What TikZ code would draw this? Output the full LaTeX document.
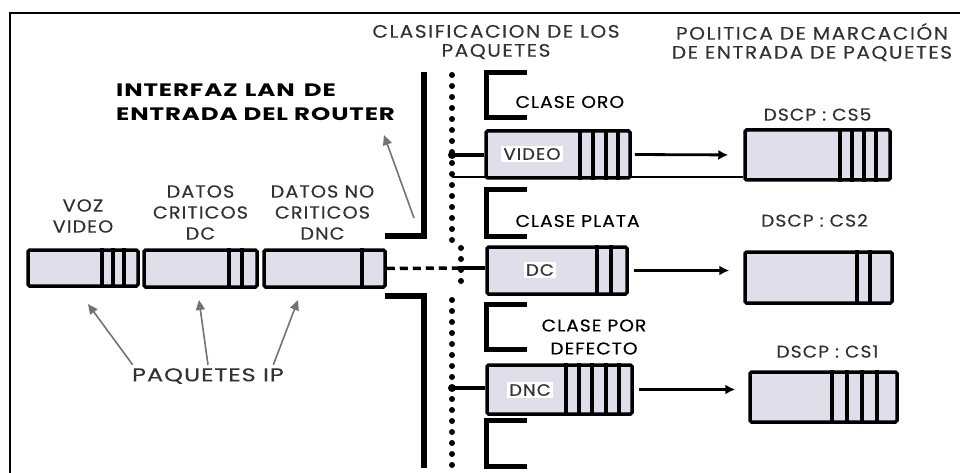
\documentclass[tikz,border=0pt]{standalone}
\usepackage{fontspec}
\setmainfont{Poppins}[FakeStretch=1.1, LetterSpace=6, FakeBold=0.4]
\newfontfamily\headfont{Poppins}[FakeStretch=1.12, LetterSpace=8.5, FakeBold=0.3]
\newfontfamily\ipfont{Poppins}[FakeStretch=1.3, LetterSpace=5, FakeBold=0.4]
\newfontfamily\routerfont{Poppins}[FakeStretch=1.36, LetterSpace=5]
\usetikzlibrary{arrows.meta, positioning}
\definecolor{pktfill}{RGB}{222,223,234}
\definecolor{txtgray}{RGB}{50,50,50}

\tikzset{
  pkt/.style={draw, line width=3.5pt, fill=pktfill, rounded corners=1.5pt, inner sep=0pt},
  stripe/.style={line width=3.5pt},
  tag/.style={fill=white, inner sep=2.5pt, text=txtgray, font=\fontsize{16.5}{18}\selectfont},
  head/.style={align=center, text=txtgray, font=\headfont\fontsize{18}{19}\selectfont},
  lbl/.style={align=center, text=txtgray, font=\fontsize{17.5}{21}\selectfont},
  clase/.style={align=center, font=\fontsize{17}{23}\selectfont},
  dscp/.style={text=txtgray, font=\fontsize{17}{19}\selectfont},
  wall/.style={line width=5.5pt},
  bracket/.style={line width=5pt},
  dots/.style={line width=6pt, line cap=round, dash pattern=on 0pt off 11pt},
  link/.style={line width=3.5pt},
  gray arrow/.style={-{Triangle[length=10pt,width=9pt]}, draw=black!55, line width=1.6pt},
  flow/.style={-{Latex[length=10pt,width=10pt]}, line width=2.8pt},
}

\begin{document}
\begin{tikzpicture}[x=1pt, y=-1pt]
\useasboundingbox (0,0) rectangle (960,473);

% marco
\draw[line width=2pt] (10,473) -- (10,13) -- (960,13);

% titulos
\node[head] (clas) at (496,42) {CLASIFICACION DE LOS\\PAQUETES};
\node[head] (pol) at (812,42) {POLITICA DE MARCACIÓN\\DE ENTRADA DE PAQUETES};
\node[align=left, anchor=north west, inner sep=0pt, font=\routerfont\bfseries\fontsize{18}{24}\selectfont] (router) at (116,84) {INTERFAZ\hspace{7pt}LAN\hspace{3pt} DE\\ENTRADA DEL ROUTER};

% interfaz LAN del router
\draw[wall] (385,236) -- (424,236) -- (424,72);
\draw[wall] (385,296) -- (424,296) -- (424,468);
\coordinate (rt) at (414,218);
\coordinate (rtip) at (384,135);
\draw[gray arrow] (rt) -- (rtip);

% linea de clasificacion
\draw[dots] (452,75) -- (452,243);
\draw[dots] (461,248) -- (461,290);
\draw[dots] (452,300) -- (452,468);

% paquetes IP de entrada
\node[pkt, minimum width=110pt, minimum height=36pt] (p1) at (83,268) {};
\node[pkt, minimum width=113pt, minimum height=37pt] (p2) at (200.5,268.5) {};
\node[pkt, minimum width=121pt, minimum height=37pt] (p3) at (324.5,268.5) {};
\foreach \x in {102,113,124} \draw[stripe] (\x,0 |- p1.north) -- (\x,0 |- p1.south);
\foreach \x in {229,242} \draw[stripe] (\x,0 |- p2.north) -- (\x,0 |- p2.south);
\draw[stripe] (362,0 |- p3.north) -- (362,0 |- p3.south);

\node[lbl, above=12pt of p1] {VOZ\\VIDEO};
\node[lbl, above=5pt of p2] {DATOS\\CRITICOS\\DC};
\node[lbl, above=5pt of p3, xshift=-2pt] {DATOS NO\\CRITICOS\\DNC};

\node[lbl, font=\ipfont\fontsize{18.5}{21}\selectfont] (ip) at (208,376) {PAQUETES IP};
\coordinate (a1) at (88,304);
\coordinate (a2) at (199,300);
\coordinate (a3) at (298,300);
\draw[gray arrow] ([xshift=4pt]ip.north west) -- (a1);
\draw[gray arrow] (ip.north) -- (a2);
\draw[gray arrow] ([xshift=-14pt]ip.north east) -- (a3);

% clases
\draw[bracket] (527,73) -- (486,73) -- (486,118) -- (527,118);
\draw[bracket] (527,189) -- (486,189) -- (486,236) -- (527,236);
\draw[bracket] (527,304) -- (486,304) -- (486,349) -- (527,349);
\draw[bracket] (527,420) -- (486,420) -- (486,466) -- (527,466);
\node[clase, anchor=west] (oro) at (512,102) {CLASE ORO};
\node[clase, anchor=west] (plata) at (512,221) {CLASE PLATA};
\node[clase] (defecto) at (594,337) {CLASE POR\\DEFECTO};

% paquetes clasificados
\node[pkt, minimum width=144pt, minimum height=47pt] (vid) at (558,154.5) {};
\node[pkt, minimum width=140pt, minimum height=47pt] (dc) at (557,270.5) {};
\node[pkt, minimum width=145pt, minimum height=49pt] (dnc) at (559.5,389.5) {};
\foreach \x in {580,593,606,618} \draw[stripe] (\x,0 |- vid.north) -- (\x,0 |- vid.south);
\foreach \x in {597,611} \draw[stripe] (\x,0 |- dc.north) -- (\x,0 |- dc.south);
\foreach \x in {566,579,592,606,619} \draw[stripe] (\x,0 |- dnc.north) -- (\x,0 |- dnc.south);
\node[tag] at (532,154) {VIDEO};
\node[tag] at (540,270) {DC};
\node[tag] at (530,390) {DNC};

% paquetes marcados
\node[pkt, minimum width=145pt, minimum height=50pt] (cs5) at (817.5,155) {};
\node[pkt, minimum width=147pt, minimum height=51pt] (cs2) at (818.5,277.5) {};
\node[pkt, minimum width=147pt, minimum height=50pt] (cs1) at (823.5,397) {};
\foreach \x in {840,852,864,876} \draw[stripe] (\x,0 |- cs5.north) -- (\x,0 |- cs5.south);
\foreach \x in {857,870} \draw[stripe] (\x,0 |- cs2.north) -- (\x,0 |- cs2.south);
\foreach \x in {832,847,862,877} \draw[stripe] (\x,0 |- cs1.north) -- (\x,0 |- cs1.south);
\node[dscp, above=4pt of cs5] {DSCP : CS5};
\node[dscp, above=20pt of cs2, xshift=-4pt] {DSCP : CS2};
\node[dscp, above=9pt of cs1, xshift=4pt] {DSCP : CS1};

% conexiones
\coordinate (dv) at (452,155);
\coordinate (dv2) at (452,177);
\coordinate (dd) at (458,268);
\coordinate (dn) at (452,388);
\fill (dv) circle (4pt);
\fill (dn) circle (4pt);
\draw[link] (dv) -- (dv -| vid.west);
\draw[line width=1.5pt] (dv2) -- (dv2 -| cs5.west);
\draw[link, dash pattern=on 8pt off 5pt] (p3.east) -- (dd);
\draw[link] (dd) -- (dd -| dc.west);
\draw[link] (dn) -- (dn -| dnc.west);

\draw[flow, shorten <=3pt, shorten >=15pt] (vid.east) -- (cs5.west);
\draw[flow, shorten <=5pt, shorten >=14pt] (dc.east) -- (dc.east -| cs2.west);
\draw[flow, shorten <=5pt, shorten >=13pt] (dnc.east) -- (dnc.east -| cs1.west);
\end{tikzpicture}
\end{document}
